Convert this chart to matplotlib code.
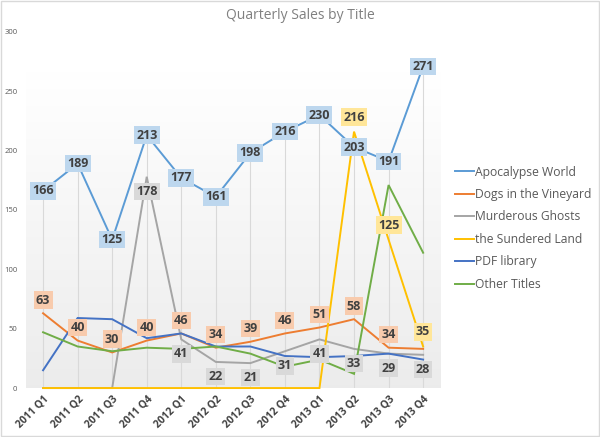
# Quarterly sales by title, Excel-style line chart

import matplotlib.pyplot as plt
import numpy as np

plt.rcParams['font.family'] = ['Open Sans', 'DejaVu Sans']

quarters = ["2011 Q1", "2011 Q2", "2011 Q3", "2011 Q4",
            "2012 Q1", "2012 Q2", "2012 Q3", "2012 Q4",
            "2013 Q1", "2013 Q2", "2013 Q3", "2013 Q4"]

apocalypse = [166, 189, 125, 213, 177, 161, 198, 216, 230, 203, 191, 271]
dogs = [63, 40, 30, 40, 46, 34, 39, 46, 51, 58, 34, 33]
ghosts = [0, 0, 0, 178, 41, 22, 21, 31, 41, 33, 29, 28]
sundered = [0, 0, 0, 0, 0, 0, 0, 0, 0, 216, 125, 35]
pdf = [15, 59, 58, 42, 46, 35, 35, 27, 26, 27, 29, 24]
other = [47, 35, 31, 34, 33, 35, 29, 18, 24, 12, 171, 114]

names = ["Apocalypse World", "Dogs in the Vineyard", "Murderous Ghosts",
         "the Sundered Land", "PDF library", "Other Titles"]
colors = ["#5B9BD5", "#ED7D31", "#A5A5A5", "#FFC000", "#4472C4", "#70AD47"]
series = [apocalypse, dogs, ghosts, sundered, pdf, other]

fig = plt.figure(figsize=(6, 4.37), dpi=100)
ax = fig.add_axes([0.043, 0.112, 0.691, 0.815])

x = np.arange(len(quarters))

# plot area gradient: white near the top, fading to light gray at the bottom
yy = np.linspace(300, 0, 300)
grad = np.where(yy > 265, 1.0, 0.925 + 0.075 * yy / 265).reshape(-1, 1)
ax.imshow(np.dstack([grad, grad, grad]), extent=[-0.5, 11.5, 0, 300],
          aspect='auto', zorder=0)

# drop lines from the highest point to the axis
tops = np.max(np.array(series), axis=0)
ax.vlines(x, 0, tops, color="#D9D9D9", linewidth=0.8, zorder=1)

for vals, name, col in zip(series, names, colors):
    ax.plot(x, vals, color=col, linewidth=1.4, label=name, zorder=2,
            solid_joinstyle='miter', clip_on=False)


def label(i, v, fill, dy):
    ax.annotate(str(v), (i, v), xytext=(0, dy), textcoords='offset points',
                ha='center', va='center', fontsize=9, fontweight='bold',
                color="#404040", zorder=5,
                bbox=dict(boxstyle='square,pad=0.18', fc=fill, ec='none'))


for i, v in enumerate(dogs[:11]):
    label(i, v, "#F8CBAD", 9.5)
for i in range(3, 12):
    label(i, ghosts[i], "#D9D9D9", -10.5)
for i in range(9, 12):
    label(i, sundered[i], "#FFE699", 10.5)
for i, v in enumerate(apocalypse):
    label(i, v, "#BDD7EE", 0)

ax.set_xlim(-0.5, 11.5)
ax.set_ylim(0, 300)
ax.set_yticks([0, 50, 100, 150, 200, 250, 300])
ax.set_xticks(x)
ax.set_xticklabels(quarters, rotation=45, ha='right', rotation_mode='anchor',
                   fontsize=7.5, fontweight='bold', color="#404040")
ax.tick_params(axis='y', labelsize=5.5, labelcolor="#595959", length=0, pad=6)
ax.tick_params(axis='x', length=0, pad=4)
for s in ax.spines.values():
    s.set_visible(False)

fig.text(0.5, 0.965, "Quarterly Sales by Title", ha='center', va='center',
         fontsize=10, color="#808080")

ax.legend(loc='upper left', bbox_to_anchor=(1.01, 0.655), frameon=False,
          fontsize=8.7, labelcolor="#595959", handlelength=1.5,
          handletextpad=0.15, labelspacing=0.78)

# thin outer border
fig.patches.append(plt.Rectangle((0.002, 0.003), 0.996, 0.994,
                                 transform=fig.transFigure, fill=False,
                                 ec="#D9D9D9", lw=1))

fig.savefig("out.png", dpi=100)
